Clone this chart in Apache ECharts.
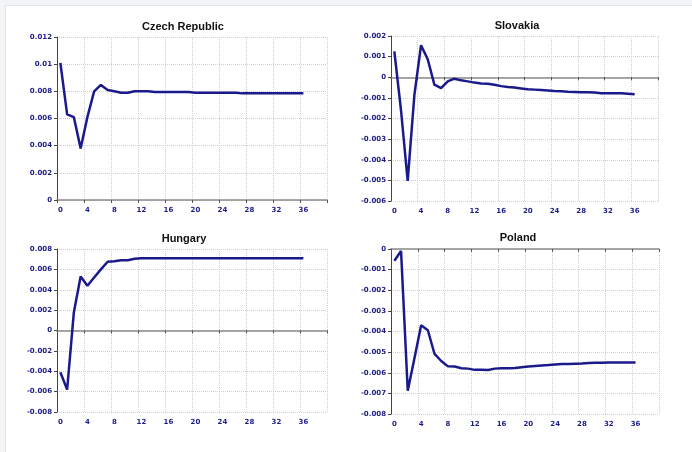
<!DOCTYPE html>
<html>
<head>
<meta charset="utf-8">
<script src="https://cdn.jsdelivr.net/npm/echarts@6/dist/echarts.min.js"></script>
<style>
  html, body { margin:0; padding:0; background:#f3f4f6; overflow:hidden; width:692px; height:452px; }
  #card { position:absolute; left:5px; top:5px; width:720px; height:480px; background:#fff; border:1px solid #e2e3e6; box-sizing:border-box; }
  #chart { position:absolute; left:0; top:0; width:692px; height:452px; }
</style>
</head>
<body>
<div id="card"></div>
<div id="chart"></div>
<script>
const periods = ['0','1','2','3','4','5','6','7','8','9','10','11','12','13','14','15','16','17','18','19',
                 '20','21','22','23','24','25','26','27','28','29','30','31','32','33','34','35','36','37','38','39'];

const titles = ['Czech Republic', 'Slovakia', 'Hungary', 'Poland'];

const czech = [0.0101, 0.0063, 0.0061, 0.0038, 0.0061, 0.0080, 0.00847, 0.0081, 0.0080, 0.0079,
               0.0079, 0.0080, 0.0080, 0.0080, 0.00795, 0.00795, 0.00795, 0.00795, 0.00795, 0.00795,
               0.0079, 0.0079, 0.0079, 0.0079, 0.0079, 0.0079, 0.0079, 0.00785, 0.00785, 0.00785,
               0.00785, 0.00785, 0.00785, 0.00785, 0.00785, 0.00785, 0.00785];

const slovakia = [0.00125, -0.0016, -0.00503, -0.00087, 0.00155, 0.00087, -0.00036, -0.00053, -0.0002, -0.00007,
                  -0.00015, -0.0002, -0.00026, -0.0003, -0.00032, -0.00036, -0.00043, -0.00047, -0.0005, -0.00054,
                  -0.00058, -0.0006, -0.00062, -0.00064, -0.00067, -0.00068, -0.0007, -0.00071, -0.00073, -0.00073,
                  -0.00074, -0.00077, -0.00078, -0.00078, -0.00078, -0.0008, -0.00082];

const hungary = [-0.0041, -0.0058, 0.0018, 0.0053, 0.0044, 0.0052, 0.0060, 0.00675, 0.0068, 0.0069,
                 0.0069, 0.00705, 0.0071, 0.0071, 0.0071, 0.0071, 0.0071, 0.0071, 0.0071, 0.0071,
                 0.0071, 0.0071, 0.0071, 0.0071, 0.0071, 0.0071, 0.0071, 0.0071, 0.0071, 0.0071,
                 0.0071, 0.0071, 0.0071, 0.0071, 0.0071, 0.0071, 0.0071];

const poland = [-0.00057, -0.0001, -0.00687, -0.0053, -0.0037, -0.00394, -0.00509, -0.00543, -0.00569, -0.0057,
                -0.00578, -0.0058, -0.00586, -0.00585, -0.00587, -0.0058, -0.00578, -0.00578, -0.00577, -0.00573,
                -0.0057, -0.00567, -0.00565, -0.00563, -0.0056, -0.00558, -0.00557, -0.00556, -0.00555, -0.00553,
                -0.00552, -0.00551, -0.0055, -0.0055, -0.0055, -0.0055, -0.0055];

const seriesData = [czech, slovakia, hungary, poland];
const yMin = [0, -0.006, -0.008, -0.008];
const yMax = [0.012, 0.002, 0.008, 0];
const yStep = [0.002, 0.001, 0.002, 0.001];

const grids = [
  {left:57, top:37, width:270, height:163},
  {left:391, top:36, width:267, height:165},
  {left:57, top:249, width:270, height:163},
  {left:391, top:249, width:268, height:165}
];
const titlePos = [{x:178, y:16}, {x:512, y:15}, {x:179, y:228}, {x:513, y:227}];

const NAVY = '#1c1c88';
const labelFont = {fontFamily:'DejaVu Sans', fontWeight:'bold', fontSize:7, color:NAVY};

const option = {
  animation:false,
  title: titles.map((t,i)=>({
    text:t, left:titlePos[i].x, top:titlePos[i].y, textAlign:'center',
    textStyle:{fontFamily:'Liberation Sans', fontWeight:'bold', fontSize:11, color:'#111'}
  })),
  grid: grids.map(g=>Object.assign({containLabel:false}, g)),
  xAxis: [],
  yAxis: [],
  series: []
};

for (let i=0;i<4;i++){
  option.xAxis.push({
    type:'category', gridIndex:i, data:periods, position:'bottom', boundaryGap:true,
    axisLine:{show:false, onZero:false},
    axisTick:{show:false, interval:3},
    axisLabel:Object.assign({interval:3, margin:7}, labelFont),
    splitLine:{show:true, interval:3, lineStyle:{color:'#cfcfcf', type:'dotted', width:1}}
  });
  option.xAxis.push({
    type:'category', gridIndex:i, data:periods, position:'top', boundaryGap:true,
    axisLine:{show:true, onZero:true, lineStyle:{color:'#8a8a8a', width:1.6}},
    axisTick:{show:true, interval:3, inside:true, length:3, lineStyle:{color:'#555'}},
    axisLabel:{show:false},
    splitLine:{show:false}
  });
  option.yAxis.push({
    type:'value', gridIndex:i, min:yMin[i], max:yMax[i], interval:yStep[i],
    axisLine:{show:true, onZero:false, lineStyle:{color:'#444', width:1}},
    axisTick:{show:true, length:3, lineStyle:{color:'#444'}},
    axisLabel:Object.assign({margin:5, formatter:v=>String(+v.toFixed(4))}, labelFont),
    splitLine:{show:true, lineStyle:{color:'#cfcfcf', type:'dotted', width:1}}
  });
  option.series.push({
    type:'line', xAxisIndex:2*i, yAxisIndex:i, data:seriesData[i],
    symbol:'none', smooth:false,
    lineStyle:{color:'#1a1a8a', width:2.5}
  });
}

const chart = echarts.init(document.getElementById('chart'), null, {renderer:'canvas'});
chart.setOption(option);
</script>
</body>
</html>
